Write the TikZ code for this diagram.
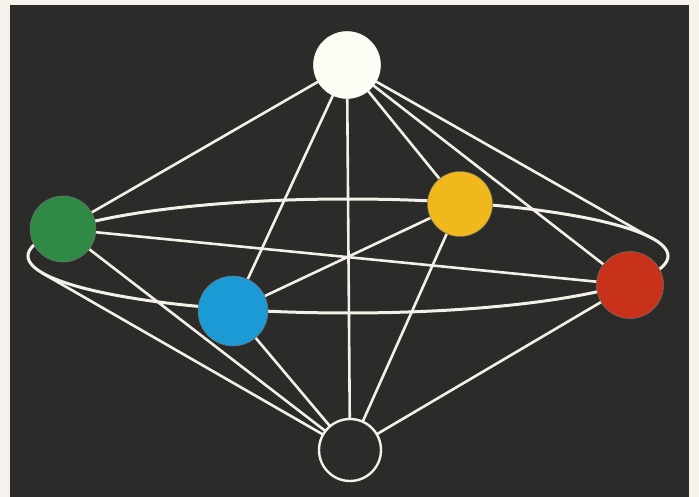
\documentclass[tikz,border=0pt]{standalone}
\usetikzlibrary{backgrounds}
\definecolor{paper}{HTML}{F4F2EA}
\definecolor{bgdark}{HTML}{2B2B29}
\definecolor{linecol}{HTML}{F3F1E7}
\definecolor{whitec}{HTML}{FDFCF4}
\definecolor{greenc}{HTML}{2F8A46}
\definecolor{yellowc}{HTML}{F1B81D}
\definecolor{redc}{HTML}{C8321B}
\definecolor{bluec}{HTML}{1C9AD6}
\begin{document}
\begin{tikzpicture}[x=1pt,y=-1pt,
  edge/.style={draw=linecol, line width=2.6pt},
  ring/.style={draw=linecol, line width=3pt},
  dot/.style={circle, inner sep=0pt, outer sep=0pt, minimum size=#1, draw=black!55, line width=0.5pt}]
\useasboundingbox (0,0) rectangle (699,497);
\node[dot=67pt, fill=whitec, draw=whitec] (W) at (347,65) {};
\node[dot=66pt, fill=greenc] (G) at (63,229) {};
\node[dot=65pt, fill=yellowc] (Y) at (460,204) {};
\node[dot=67pt, fill=redc] (R) at (630,285) {};
\node[dot=70pt, fill=bluec] (B) at (233,311) {};
\node[dot=62pt, draw=linecol, line width=2.4pt, fill=bgdark] (K) at (350,450) {};
\coordinate (TR) at (653,239);
\coordinate (TL) at (42,273);
\begin{scope}[on background layer]
  \fill[paper] (0,0) rectangle (699,497);
  \fill[bgdark] (10,5) rectangle (689,497);
  \draw[ring] (348,256) ellipse [x radius=320pt, y radius=57pt];
  \draw[edge] (W) -- (G);
  \draw[edge] (W) -- (B);
  \draw[edge] (W) -- (K);
  \draw[edge] (W) -- (Y);
  \draw[edge] (W) -- (R);
  \draw[edge] (W) -- (TR);
  \draw[edge] (K) -- (G);
  \draw[edge] (K) -- (TL);
  \draw[edge] (K) -- (B);
  \draw[edge] (K) -- (Y);
  \draw[edge] (K) -- (R);
  \draw[edge] (G) -- (R);
  \draw[edge] (B) -- (Y);
\end{scope}
\end{tikzpicture}
\end{document}
